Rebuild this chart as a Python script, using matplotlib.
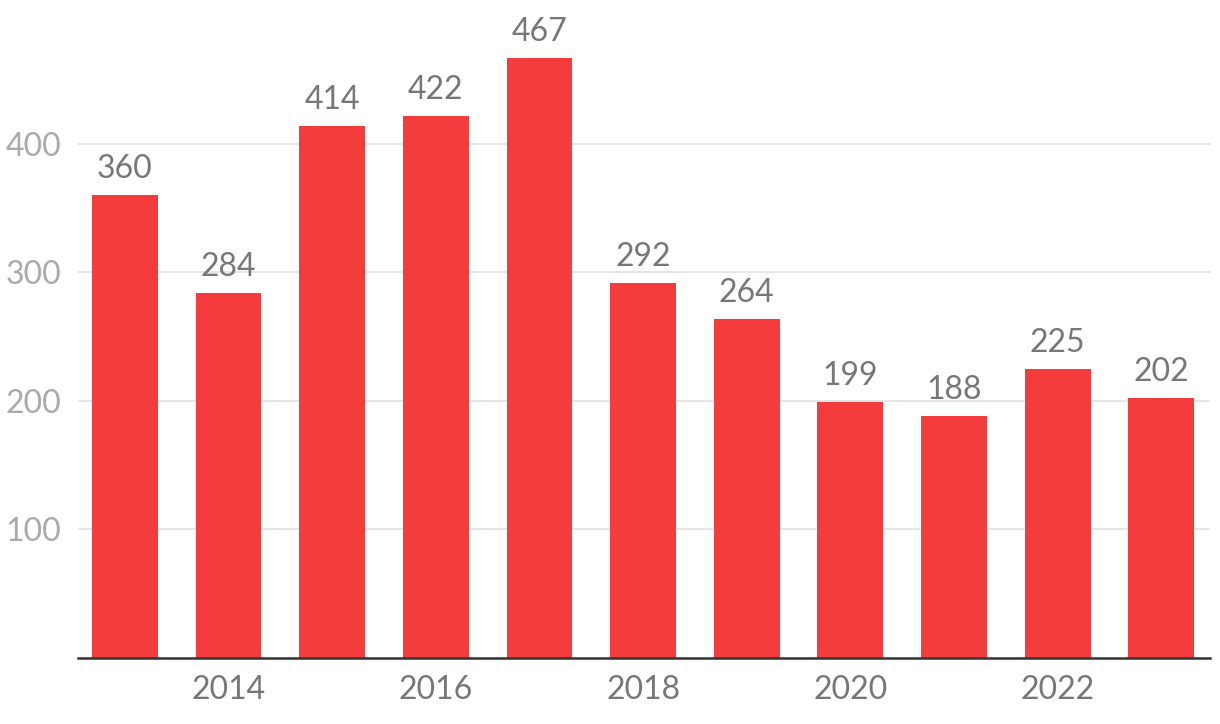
import matplotlib.pyplot as plt

plt.rcParams["font.family"] = ["Lato", "DejaVu Sans"]

years = [2013, 2014, 2015, 2016, 2017, 2018, 2019, 2020, 2021, 2022, 2023]
values = [360, 284, 414, 422, 467, 292, 264, 199, 188, 225, 202]
tick_years = [2014, 2016, 2018, 2020, 2022]
yticks = [100, 200, 300, 400]

fig = plt.figure(figsize=(12.2, 7.24), dpi=100)
ax = fig.add_axes([78 / 1220, 66 / 724, 1132 / 1220, 658 / 724])

bars = ax.bar(years, values, width=0.635, color="#f43c3c", zorder=2)

# etiquetas de valor encima de cada barra
for b, v in zip(bars, values):
    ax.annotate(str(v), (b.get_x() + b.get_width() / 2, v), xytext=(0, 8),
                textcoords="offset points", ha="center", va="bottom",
                fontsize=23, color="#777777")

ax.set_xlim(years[0] - 0.452, years[-1] + 0.47)
ax.set_ylim(0, 512)
ax.set_xticks(tick_years)
ax.set_xticklabels([str(y) for y in tick_years])
ax.set_yticks(yticks)
ax.tick_params(axis="x", length=0, pad=12, labelsize=23, labelcolor="#777777")
ax.tick_params(axis="y", length=0, pad=12, labelsize=23, labelcolor="#aaaaaa")
ax.grid(axis="y", color="#e3e3e3", linewidth=1.3, zorder=0)

for side in ["top", "right", "left"]:
    ax.spines[side].set_visible(False)
ax.spines["bottom"].set_color("#333333")
ax.spines["bottom"].set_linewidth(1.8)
ax.spines["bottom"].set_zorder(3)

fig.savefig("out.png", dpi=100)
